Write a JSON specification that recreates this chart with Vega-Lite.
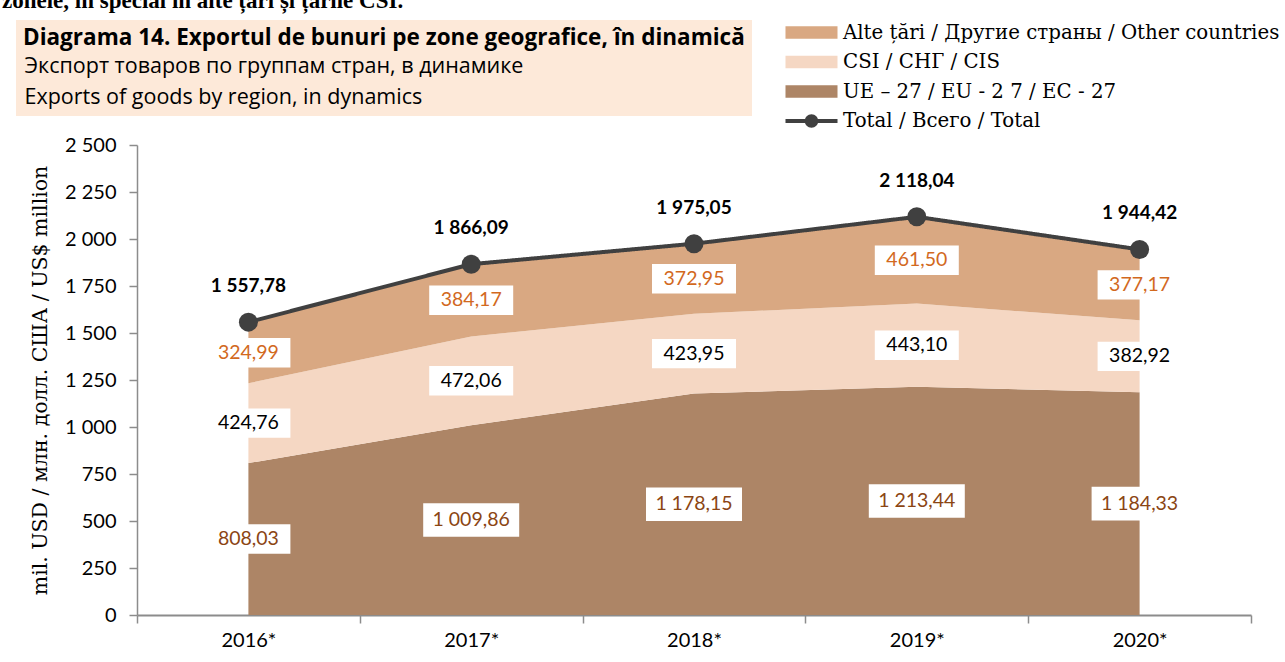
{
  "$schema": "https://vega.github.io/schema/vega-lite/v6.json",
  "width": 1114,
  "height": 470,
  "autosize": {"type": "none"},
  "padding": {"left": 137, "top": 145, "right": 34, "bottom": 47},
  "background": "white",
  "config": {
    "locale": {"number": {"decimal": ",", "thousands": "\u202f", "grouping": [3], "currency": ["", ""]}},
    "view": {"stroke": null},
    "font": "Lato"
  },
  "title": {
    "text": "zonele, în special în alte țări și țările CSI.",
    "anchor": "start",
    "frame": "group",
    "dx": -135,
    "offset": 7,
    "fontSize": 23,
    "font": "Liberation Serif",
    "fontWeight": "bold",
    "color": "black"
  },
  "data": {
    "values": [
      {"year": "2016*", "series": "UE – 27 / EU - 2 7 / EC - 27", "value": 808.03},
      {"year": "2017*", "series": "UE – 27 / EU - 2 7 / EC - 27", "value": 1009.86},
      {"year": "2018*", "series": "UE – 27 / EU - 2 7 / EC - 27", "value": 1178.15},
      {"year": "2019*", "series": "UE – 27 / EU - 2 7 / EC - 27", "value": 1213.44},
      {"year": "2020*", "series": "UE – 27 / EU - 2 7 / EC - 27", "value": 1184.33},
      {"year": "2016*", "series": "CSI / СНГ / CIS", "value": 424.76},
      {"year": "2017*", "series": "CSI / СНГ / CIS", "value": 472.06},
      {"year": "2018*", "series": "CSI / СНГ / CIS", "value": 423.95},
      {"year": "2019*", "series": "CSI / СНГ / CIS", "value": 443.10},
      {"year": "2020*", "series": "CSI / СНГ / CIS", "value": 382.92},
      {"year": "2016*", "series": "Alte țări / Другие страны / Other countries", "value": 324.99},
      {"year": "2017*", "series": "Alte țări / Другие страны / Other countries", "value": 384.17},
      {"year": "2018*", "series": "Alte țări / Другие страны / Other countries", "value": 372.95},
      {"year": "2019*", "series": "Alte țări / Другие страны / Other countries", "value": 461.50},
      {"year": "2020*", "series": "Alte țări / Другие страны / Other countries", "value": 377.17},
      {"year": "2016*", "series": "Total / Всего / Total", "value": 1557.78},
      {"year": "2017*", "series": "Total / Всего / Total", "value": 1866.09},
      {"year": "2018*", "series": "Total / Всего / Total", "value": 1975.05},
      {"year": "2019*", "series": "Total / Всего / Total", "value": 2118.04},
      {"year": "2020*", "series": "Total / Всего / Total", "value": 1944.42}
    ]
  },
  "layer": [
    {
      "transform": [{"filter": "datum.series !== 'Total / Всего / Total'"}],
      "mark": {"type": "area", "opacity": 1},
      "encoding": {
        "x": {
          "field": "year", "type": "ordinal", "bandPosition": 0.5,
          "scale": {"type": "band", "paddingInner": 0, "paddingOuter": 0},
          "axis": {
            "title": null, "labelAngle": 0, "tickBand": "extent",
            "domainColor": "#8c8c8c", "domainWidth": 2, "tickColor": "#8c8c8c", "tickWidth": 1.5, "tickSize": 8,
            "labelFont": "Lato", "labelFontSize": 20, "labelColor": "black", "labelPadding": 7, "grid": false
          }
        },
        "y": {
          "field": "value", "type": "quantitative", "stack": "zero",
          "scale": {"domain": [0, 2500], "nice": false},
          "axis": {
            "title": "mil. USD / млн. долл. США  / US$ million",
            "values": [0, 250, 500, 750, 1000, 1250, 1500, 1750, 2000, 2250, 2500],
            "format": ",d",
            "grid": false, "tickSize": 8, "tickColor": "#8c8c8c", "tickWidth": 1.5,
            "domainColor": "#8c8c8c", "domainWidth": 1.5,
            "labelFont": "Lato", "labelFontSize": 20, "labelColor": "black", "labelPadding": 13,
            "titleFont": "DejaVu Serif", "titleFontSize": 20.5, "titleFontWeight": "normal", "titleColor": "black",
            "titleX": -97, "titleY": 235, "titleBaseline": "middle", "titleAlign": "center", "titleAngle": -90
          }
        },
        "fill": {
          "field": "series", "type": "nominal",
          "scale": {
            "domain": ["Alte țări / Другие страны / Other countries", "CSI / СНГ / CIS", "UE – 27 / EU - 2 7 / EC - 27", "Total / Всего / Total"],
            "range": ["#d9a882", "#f5d7c3", "#ad8566", "#404040"]
          },
          "legend": {
            "orient": "none", "legendX": 664, "legendY": -123, "title": null, "padding": 0,
            "symbolType": "M-2.5,-0.6H2.5V0.6H-2.5Z", "symbolSize": 433, "symbolStrokeWidth": 0, "symbolOpacity": 1,
            "labelFont": "DejaVu Serif", "labelFontSize": 19.8, "labelColor": "black", "labelOffset": 21, "labelLimit": 700,
            "rowPadding": 8.5,
            "encode": {
              "symbols": {
                "update": {
                  "shape": {"signal": "datum.value === 'Total / Всего / Total' ? 'M-2.5,-0.19H2.5V0.19H-2.5Z M-0.65,0A0.65,0.65 0 1,1 0.65,0A0.65,0.65 0 1,1 -0.65,0Z' : 'M-2.5,-0.6H2.5V0.6H-2.5Z'"}
                }
              }
            }
          }
        },
        "order": {"field": "series", "sort": "descending"}
      }
    },
    {
      "transform": [
        {"filter": "datum.series !== 'Total / Всего / Total'"},
        {"stack": "value", "groupby": ["year"], "sort": [{"field": "series", "order": "descending"}], "as": ["v0", "v1"]},
        {"calculate": "(datum.v0 + datum.v1) / 2", "as": "mid"}
      ],
      "layer": [
        {
          "mark": {"type": "point", "shape": "M-1,-0.35H1V0.35H-1Z", "filled": true, "fill": "white", "strokeWidth": 0, "opacity": 1},
          "encoding": {
            "x": {"field": "year", "type": "ordinal", "bandPosition": 0.5},
            "y": {"field": "mid", "type": "quantitative"},
            "size": {"condition": {"test": "datum.value >= 1000", "value": 9216}, "value": 7056}
          }
        },
        {
          "mark": {"type": "text", "font": "Lato", "fontSize": 19.5},
          "encoding": {
            "x": {"field": "year", "type": "ordinal", "bandPosition": 0.5},
            "y": {"field": "mid", "type": "quantitative"},
            "text": {"field": "value", "type": "quantitative", "format": ",.2f"},
            "color": {
              "field": "series", "type": "nominal",
              "scale": {"domain": ["Alte țări / Другие страны / Other countries", "CSI / СНГ / CIS", "UE – 27 / EU - 2 7 / EC - 27"], "range": ["#d2691e", "#000000", "#8b4513"]},
              "legend": null
            }
          }
        }
      ]
    },
    {
      "transform": [{"filter": "datum.series === 'Total / Всего / Total'"}],
      "mark": {"type": "line", "color": "#404040", "strokeWidth": 4},
      "encoding": {
        "x": {"field": "year", "type": "ordinal", "bandPosition": 0.5},
        "y": {"field": "value", "type": "quantitative"},
        "strokeDash": {
          "datum": "Экспорт товаров по группам стран, в динамике",
          "scale": {
            "domain": ["Экспорт товаров по группам стран, в динамике", "Exports of goods by region, in dynamics"],
            "range": [[1, 0], [1, 0]]
          },
          "legend": {
            "orient": "none", "legendX": -121, "legendY": -125,
            "title": "Diagrama 14. Exportul de bunuri pe zone geografice, în dinamică",
            "titleFont": "Open Sans", "titleFontSize": 22.5, "titleFontWeight": "bold", "titleColor": "black",
            "titleLimit": 1000, "titlePadding": 7,
            "labelFont": "Open Sans", "labelFontSize": 21.5, "labelColor": "black", "labelLimit": 1000, "labelOffset": -20,
            "symbolType": "circle", "symbolSize": 0, "symbolOpacity": 0, "symbolStrokeWidth": 0,
            "rowPadding": 8, "fillColor": "#fde9d9", "padding": 7
          }
        }
      }
    },
    {
      "transform": [{"filter": "datum.series === 'Total / Всего / Total'"}],
      "mark": {"type": "point", "filled": true, "color": "#404040", "size": 361, "opacity": 1},
      "encoding": {
        "x": {"field": "year", "type": "ordinal", "bandPosition": 0.5},
        "y": {"field": "value", "type": "quantitative"}
      }
    },
    {
      "transform": [{"filter": "datum.series === 'Total / Всего / Total'"}],
      "mark": {"type": "text", "font": "Lato", "fontSize": 19, "fontWeight": "bold", "color": "black", "dy": -36},
      "encoding": {
        "x": {"field": "year", "type": "ordinal", "bandPosition": 0.5},
        "y": {"field": "value", "type": "quantitative"},
        "text": {"field": "value", "type": "quantitative", "format": ",.2f"}
      }
    }
  ]
}
